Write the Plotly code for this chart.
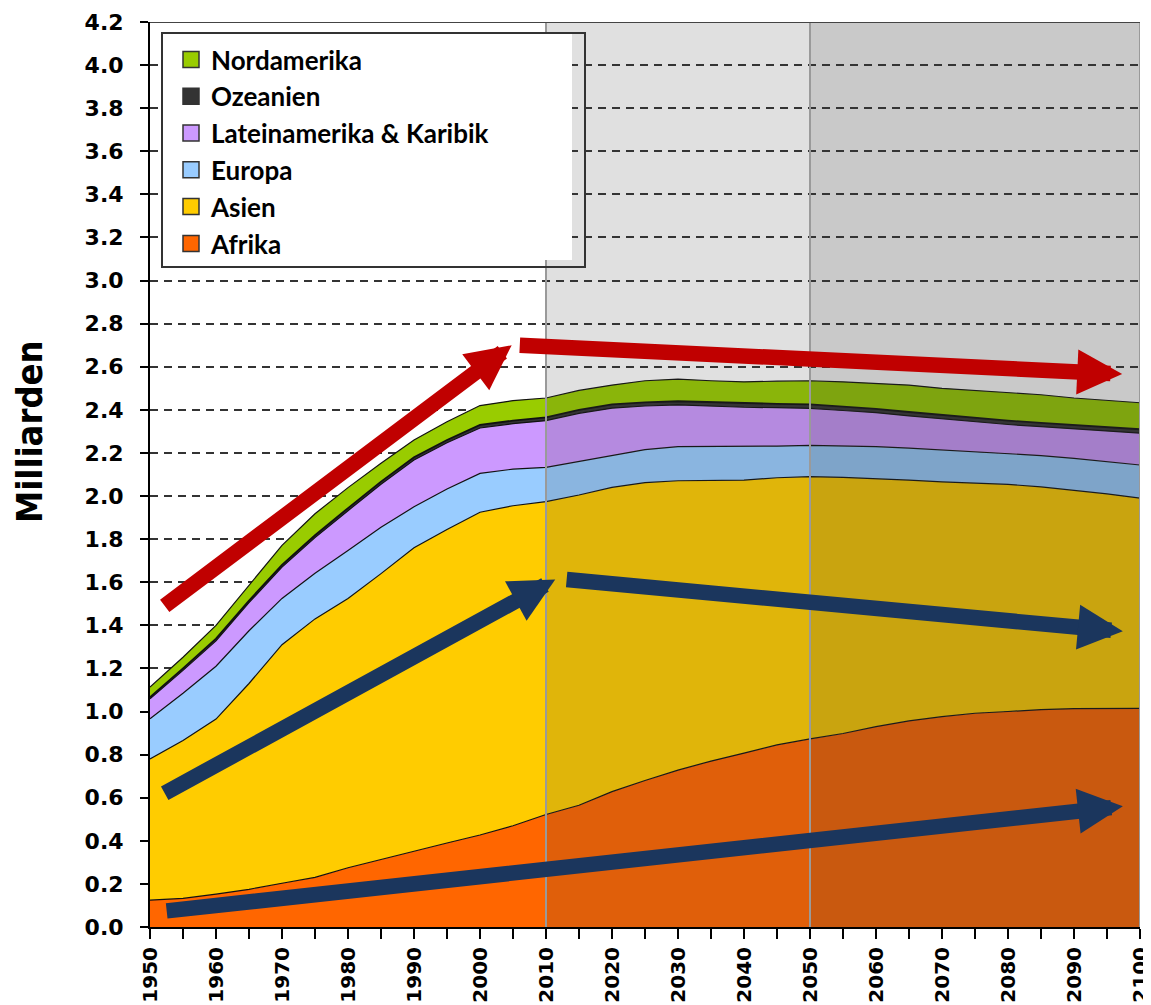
import plotly.graph_objects as go

# ---------------- data (billions) ----------------
years = [1950, 1955, 1960, 1965, 1970, 1975, 1980, 1985, 1990, 1995, 2000,
         2005, 2010, 2015, 2020, 2025, 2030, 2035, 2040, 2045, 2050, 2055,
         2060, 2065, 2070, 2075, 2080, 2085, 2090, 2095, 2100]

afrika = [0.125, 0.133, 0.153, 0.175, 0.203, 0.23, 0.275, 0.314, 0.35, 0.39, 0.427,
          0.47, 0.522, 0.565, 0.628, 0.68, 0.728, 0.77, 0.807, 0.845, 0.873, 0.898,
          0.93, 0.957, 0.976, 0.992, 1.0, 1.009, 1.013, 1.015, 1.015]
asien = [0.655, 0.732, 0.812, 0.955, 1.107, 1.20, 1.25, 1.326, 1.41, 1.455, 1.498,
         1.485, 1.452, 1.44, 1.412, 1.382, 1.343, 1.303, 1.267, 1.24, 1.217, 1.189,
         1.152, 1.117, 1.09, 1.068, 1.054, 1.034, 1.015, 0.995, 0.975]
europa = [0.186, 0.22, 0.245, 0.245, 0.215, 0.212, 0.222, 0.215, 0.19, 0.188, 0.18,
          0.17, 0.159, 0.155, 0.15, 0.153, 0.158, 0.156, 0.155, 0.147, 0.145, 0.145,
          0.147, 0.148, 0.147, 0.145, 0.144, 0.145, 0.147, 0.15, 0.154]
lateinamerika = [0.093, 0.106, 0.118, 0.13, 0.145, 0.165, 0.185, 0.2, 0.217, 0.214, 0.211,
                 0.211, 0.217, 0.224, 0.218, 0.203, 0.194, 0.188, 0.183, 0.178, 0.172, 0.165,
                 0.158, 0.15, 0.145, 0.14, 0.134, 0.134, 0.137, 0.142, 0.148]
ozeanien = [0.008, 0.009, 0.01, 0.01, 0.011, 0.011, 0.012, 0.012, 0.013, 0.013, 0.014,
            0.014, 0.015, 0.016, 0.017, 0.017, 0.017, 0.018, 0.018, 0.018, 0.018, 0.018,
            0.018, 0.018, 0.018, 0.018, 0.018, 0.018, 0.018, 0.018, 0.018]
nordamerika = [0.046, 0.052, 0.062, 0.072, 0.09, 0.10, 0.095, 0.085, 0.08, 0.085, 0.09,
               0.093, 0.09, 0.09, 0.09, 0.10, 0.103, 0.10, 0.10, 0.105, 0.11, 0.115,
               0.119, 0.125, 0.124, 0.127, 0.13, 0.13, 0.125, 0.125, 0.123]

series_names = ["Afrika", "Asien", "Europa", "Lateinamerika & Karibik", "Ozeanien", "Nordamerika"]
series_values = [afrika, asien, europa, lateinamerika, ozeanien, nordamerika]
series_colors = ["#FF6600", "#FFCC00", "#99CCFF", "#CC99FF", "#333333", "#99CC00"]

y_ticks = [0.0, 0.2, 0.4, 0.6, 0.8, 1.0, 1.2, 1.4, 1.6, 1.8, 2.0, 2.2, 2.4, 2.6,
           2.8, 3.0, 3.2, 3.4, 3.6, 3.8, 4.0, 4.2]
x_ticks = [1950, 1960, 1970, 1980, 1990, 2000, 2010, 2020, 2030, 2040, 2050,
           2060, 2070, 2080, 2090, 2100]

# trend arrows: (tail year, tail value, head year, head value, colour)
arrows = [
    (1952.0, 1.485, 2004.8, 2.70, "#C00000"),
    (2005.8, 2.70, 2097.3, 2.566, "#C00000"),
    (1952.0, 0.617, 2011.4, 1.613, "#1B365D"),
    (2012.9, 1.613, 2097.4, 1.372, "#1B365D"),
    (1952.3, 0.074, 2097.4, 0.56, "#1B365D"),
]

# ---------------- figure ----------------
# page body has an 8px margin, so the figure is sized/margined to land the
# plot area on the reference pixels
W, H = 1143, 997
ML, MR, MT, MB = 142, 11, 14, 78
PX0, PY0 = 8 + ML, 8 + MT            # page pixel of plot top-left
PW, PH = W - ML - MR, H - MT - MB


def px_x(p):
    return (p - PX0) / PW


def px_y(p):
    return (PY0 + PH - p) / PH


fig = go.Figure()

for name, vals, col in zip(series_names, series_values, series_colors):
    fig.add_trace(go.Scatter(
        x=years, y=vals, name=name, stackgroup="one", mode="lines",
        line=dict(color="#111111", width=1.8 if name == "Ozeanien" else 1.2),
        fillcolor=col, showlegend=False, hoverinfo="x+y+name"))

# legend entries (square swatches), top to bottom
for name, col in zip(series_names[::-1], series_colors[::-1]):
    fig.add_trace(go.Scatter(
        x=[None], y=[None], mode="markers", name=name, legendgroup=name,
        marker=dict(symbol="square", size=16, color=col,
                    line=dict(color="#333333", width=1.5))))

shapes = [
    dict(type="rect", xref="x", yref="y", x0=2010, x1=2050, y0=0, y1=4.2,
         fillcolor="rgba(62,62,62,0.16)", line=dict(width=0), layer="above"),
    dict(type="rect", xref="x", yref="y", x0=2050, x1=2100, y0=0, y1=4.2,
         fillcolor="rgba(55,55,55,0.27)", line=dict(width=0), layer="above"),
    dict(type="line", xref="x", yref="y", x0=2010, x1=2010, y0=0, y1=4.2,
         line=dict(color="#9a9a9a", width=2), layer="above"),
    dict(type="line", xref="x", yref="y", x0=2050, x1=2050, y0=0, y1=4.2,
         line=dict(color="#9a9a9a", width=2), layer="above"),
    dict(type="line", xref="x", yref="y", x0=2100, x1=2100, y0=0, y1=4.2,
         line=dict(color="#9a9a9a", width=2), layer="above"),
    dict(type="line", xref="x", yref="y", x0=1950, x1=2100, y0=4.2, y1=4.2,
         line=dict(color="#444444", width=2), layer="above"),
    # legend box
    dict(type="rect", xref="paper", yref="paper", x0=px_x(162), x1=px_x(572),
         y0=px_y(260), y1=px_y(33), fillcolor="white", line=dict(width=0), layer="above"),
    dict(type="rect", xref="paper", yref="paper", x0=px_x(162), x1=px_x(585),
         y0=px_y(267), y1=px_y(33), fillcolor="rgba(0,0,0,0)",
         line=dict(color="#333333", width=2), layer="above"),
]

annotations = []
for (tx, ty, hx, hy, col) in arrows:
    annotations.append(dict(
        x=hx, y=hy, ax=tx, ay=ty, xref="x", yref="y", axref="x", ayref="y",
        text="", showarrow=True, arrowhead=2, arrowsize=0.58, arrowwidth=15.5,
        arrowcolor=col, font=dict(size=1)))

# y axis title
annotations.append(dict(
    text="Milliarden", textangle=-90, xref="paper", yref="paper",
    x=px_x(30), y=px_y(432), xanchor="center", yanchor="middle", showarrow=False,
    font=dict(family="Liberation Sans Narrow, DejaVu Sans Condensed, Arial Narrow, sans-serif",
              size=36, color="black", weight="bold")))

y_tick_font = dict(family="DejaVu Sans, Liberation Sans, Arial", size=22,
                   color="black", weight="bold")
x_tick_font = dict(family="DejaVu Sans, Liberation Sans, Arial", size=20,
                   color="black", weight="bold")

fig.update_layout(
    width=W, height=H,
    margin=dict(l=ML, r=MR, t=MT, b=MB, autoexpand=False),
    paper_bgcolor="white", plot_bgcolor="white",
    showlegend=True,
    legend=dict(x=px_x(171), y=px_y(36), xanchor="left", yanchor="top",
                bgcolor="rgba(0,0,0,0)", borderwidth=0, traceorder="normal",
                tracegroupgap=3, itemsizing="trace",
                font=dict(family="Lato, Open Sans, sans-serif", size=26,
                          color="black", weight="bold")),
    shapes=shapes,
    annotations=annotations,
    xaxis=dict(range=[1950, 2100], tickvals=x_ticks, ticktext=[str(v) for v in x_ticks],
               tickangle=-90, ticks="outside", ticklen=10, tickwidth=1.5,
               tickcolor="black", tickfont=x_tick_font, ticklabeloverflow="allow",
               minor=dict(dtick=5, tick0=1950, ticks="outside", ticklen=10,
                          tickwidth=1.5, tickcolor="black", showgrid=False),
               showline=True, linecolor="black", linewidth=2,
               showgrid=False, zeroline=False, fixedrange=True),
    yaxis=dict(range=[0, 4.2], tickvals=y_ticks, ticktext=["%.1f" % v for v in y_ticks],
               ticks="outside", ticklen=8, tickwidth=1.5, tickcolor="black",
               ticklabelstandoff=12, tickfont=y_tick_font, ticklabeloverflow="allow",
               showline=True, linecolor="black", linewidth=2,
               showgrid=True, gridcolor="#333333", gridwidth=1.5, griddash="8px,6px",
               zeroline=False, fixedrange=True),
)

fig.write_html("out.html")
